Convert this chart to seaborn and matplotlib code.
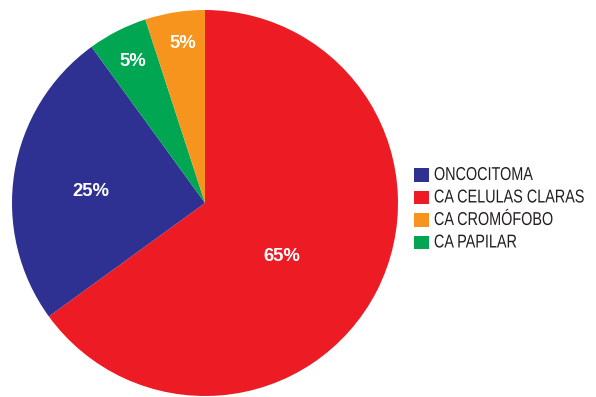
import numpy as np
import matplotlib
matplotlib.use("Agg")
import matplotlib.pyplot as plt
import matplotlib.patheffects as pe
from matplotlib.transforms import Affine2D
import seaborn as sns

# Tumour types and their share of cases (legend order)
categories = ["ONCOCITOMA", "CA CELULAS CLARAS", "CA CROMÓFOBO", "CA PAPILAR"]
shares = [25, 65, 5, 5]
labels_pct = ["25%", "65%", "5%", "5%"]

# Drawing order of the wedges, clockwise from 12 o'clock
wedge_order = [1, 0, 3, 2]

colors = ["#2E3192", "#ED1C24", "#F7941D", "#00A651"]
# Radial distance and angular nudge (degrees) of each percentage label
label_radius = [0.594, 0.484, 0.834, 0.82]
label_shift = [3.0, -8.0, -1.0, 0.0]

# Tall, narrow lettering for the legend: stretch glyphs up, squeeze them a bit
STRETCH_X, STRETCH_Y = 0.96, 1.24


class Reshape(pe.AbstractPathEffect):
    """Scale glyph outlines about the text's baseline origin."""

    def __init__(self, sx, sy):
        super().__init__()
        self.sx, self.sy = sx, sy

    def draw_path(self, renderer, gc, tpath, affine, rgbFace=None):
        renderer.draw_path(gc, tpath,
                           Affine2D().scale(self.sx, self.sy) + affine, rgbFace)


sns.set_style("white")
plt.rcParams["font.family"] = ["Liberation Sans", "DejaVu Sans"]

W, H = 596, 397
fig = plt.figure(figsize=(W / 100, H / 100), dpi=100)
cx, cy, r = 205, 203, 193
ax = fig.add_axes([(cx - r) / W, (H - cy - r) / H, 2 * r / W, 2 * r / H])

vals = [shares[i] for i in wedge_order]
cols = [colors[i] for i in wedge_order]
wedges, _ = ax.pie(vals, colors=cols, startangle=90, counterclock=False,
                   radius=1.0, wedgeprops=dict(linewidth=0))
ax.set_xlim(-1, 1)
ax.set_ylim(-1, 1)
ax.set_aspect("equal")
ax.axis("off")

for w, i in zip(wedges, wedge_order):
    mid = np.deg2rad((w.theta1 + w.theta2) / 2 + label_shift[i])
    rr = label_radius[i]
    ax.text(rr * np.cos(mid), rr * np.sin(mid), labels_pct[i], color="white",
            fontsize=13.3, fontweight="bold", ha="center", va="center")

handles = [wedges[wedge_order.index(i)] for i in range(len(categories))]
leg = fig.legend(handles, categories, loc="center left",
                 bbox_to_anchor=(414 / W, 1 - 209.3 / H),
                 frameon=False, borderpad=0, borderaxespad=0,
                 handlelength=1.0, handleheight=1.0, handletextpad=0.33,
                 labelspacing=0.51, fontsize=10.8)
for t in leg.get_texts():
    t.set_color("#231F20")
    t.set_path_effects([Reshape(STRETCH_X, STRETCH_Y)])

fig.savefig("out.png", dpi=100)
